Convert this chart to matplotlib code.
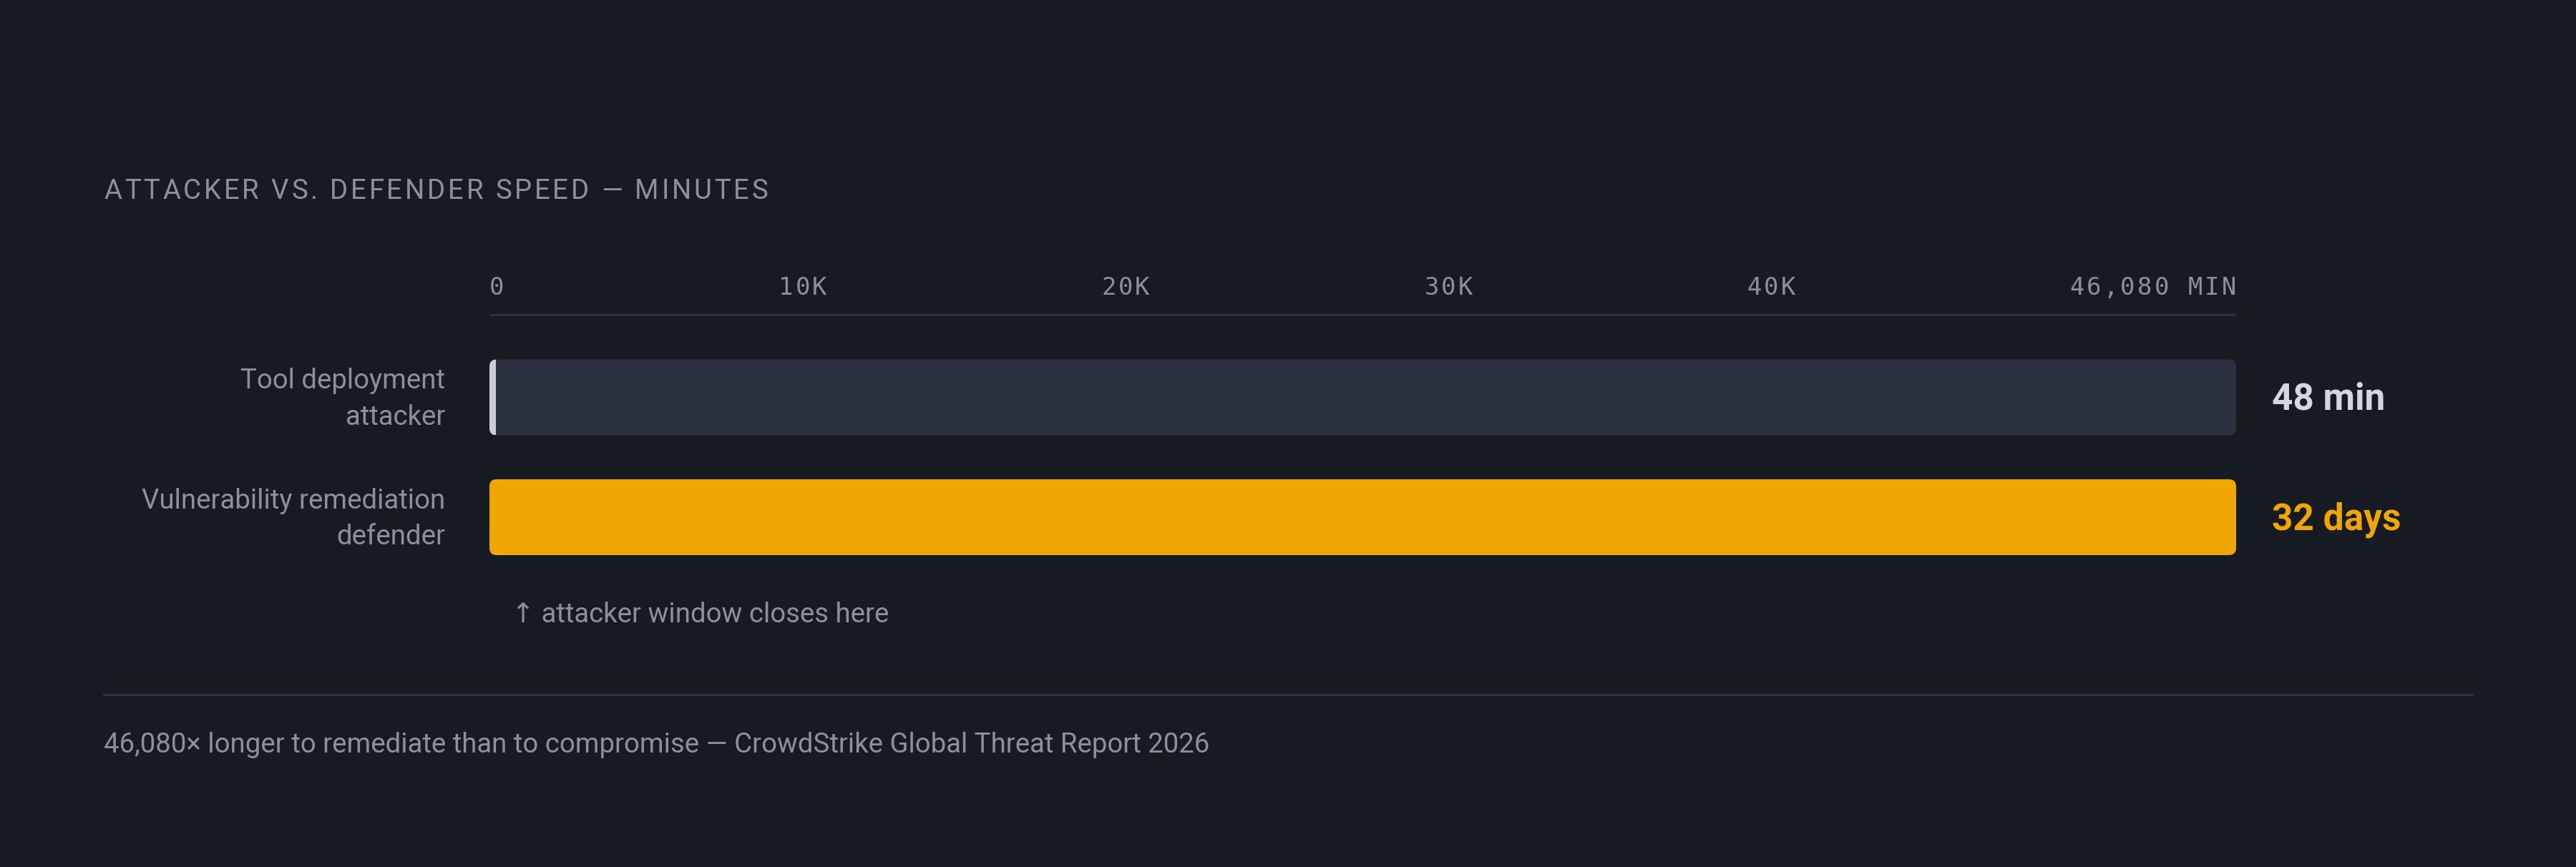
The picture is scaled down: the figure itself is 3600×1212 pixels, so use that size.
import numpy as np
import matplotlib
matplotlib.use('Agg')
from matplotlib import pyplot as plt
from matplotlib.patches import FancyBboxPatch, Rectangle
from matplotlib.lines import Line2D

# data
rows = ['Tool deployment', 'Vulnerability remediation']
roles = ['attacker', 'defender']
minutes = [48, 46080]
value_labels = ['48 min', '32 days']
tick_labels = ['0', '10K', '20K', '30K', '40K', '46,080 MIN']
axis_max = 46080
title = 'ATTACKER VS. DEFENDER SPEED \u2014 MINUTES'
note = '\u2191 attacker window closes here'
footer = '46,080\u00d7 longer to remediate than to compromise \u2014 CrowdStrike Global Threat Report 2026'

bg = '#161a21'
track = '#2a3040'
grey = '#8b919b'
fill_colors = ['#c9cfd7', '#f0a500']
value_colors = ['#d3d8df', '#f0a500']

sans = ['Roboto', 'DejaVu Sans']
mono = ['DejaVu Sans Mono']

W, H = 3600, 1212
fig = plt.figure(figsize=(18, 6.06), dpi=200)
fig.patch.set_facecolor(bg)
renderer = fig.canvas.get_renderer()

def fx(x):
    return x / W

def fy(y):
    return 1 - y / H

def text_w(s, **kw):
    t = fig.text(0, 0, s, **kw)
    w = t.get_window_extent(renderer).width
    t.remove()
    return w

def spaced_width(s, sp, **kw):
    tot = 0
    for ch in s:
        if ch == ' ':
            tot += text_w('x x', **kw) - text_w('xx', **kw)
        else:
            tot += text_w(ch, **kw)
        tot += sp
    return tot - sp

def spaced_text(x, y, s, sp, **kw):
    for ch in s:
        if ch == ' ':
            x += text_w('x x', **kw) - text_w('xx', **kw) + sp
            continue
        fig.text(fx(x), fy(y), ch, va='baseline', ha='left', **kw)
        x += text_w(ch, **kw) + sp

# plot area
left, right = 684, 3125
top, bottom = 440, 800
pitch = 167.5
c0 = 555.5
ax = fig.add_axes([fx(left), fy(bottom), (right - left) / W, (bottom - top) / H])
ax.set_xlim(0, axis_max)
ax.set_ylim((bottom - c0) / pitch, (top - c0) / pitch)
ax.axis('off')

xpp = axis_max / (right - left)
ypp = 1 / pitch
bar_h = 106 * ypp
r = 10 * xpp
for i, v in enumerate(minutes):
    tr = FancyBboxPatch((0, i - bar_h / 2), axis_max, bar_h,
                        boxstyle='round,pad=0,rounding_size=%f' % r,
                        mutation_aspect=ypp / xpp, fc=track, ec='none')
    ax.add_patch(tr)
    w = max(v, 9 * xpp)
    fill = Rectangle((0, i - bar_h / 2), w, bar_h, fc=fill_colors[i], ec='none')
    ax.add_patch(fill)
    fill.set_clip_path(tr)

# axis line
ax.plot([0, axis_max], [(top - c0) / pitch] * 2, color=track, lw=1.2,
        clip_on=False, solid_capstyle='butt')

# tick labels, spread edge to edge
tk = dict(fontsize=12.2, color=grey, family=mono)
tsp = 3.2
widths = [spaced_width(s, tsp, **tk) for s in tick_labels]
gap = ((right - left) - sum(widths)) / (len(tick_labels) - 1)
x = left
for s, w in zip(tick_labels, widths):
    spaced_text(x, 412, s, tsp, **tk)
    x += w + gap

# title
spaced_text(145, 278, title, 3.8, fontsize=13.8, color=grey, family=sans)

# row labels
fs = 13.8
for i in range(len(rows)):
    cy = c0 + i * pitch
    fig.text(fx(622), fy(cy - 12), rows[i], ha='right', va='baseline',
             fontsize=fs, color=grey, family=sans)
    fig.text(fx(622), fy(cy + 38), roles[i], ha='right', va='baseline',
             fontsize=fs, color=grey, family=sans)
    fig.text(fx(3175), fy(cy + 17), value_labels[i], ha='left', va='baseline',
             fontsize=18.5, fontweight='bold', color=value_colors[i], family=sans)

fig.text(fx(715), fy(870), note, ha='left', va='baseline',
         fontsize=fs, color=grey, family=sans)

fig.add_artist(Line2D([fx(145), fx(3455)], [fy(971), fy(971)], color=track,
                      lw=1.1, transform=fig.transFigure))
fig.text(fx(145), fy(1052), footer, ha='left', va='baseline',
         fontsize=fs, color=grey, family=sans)

fig.savefig('out.png', dpi=200, facecolor=bg)
